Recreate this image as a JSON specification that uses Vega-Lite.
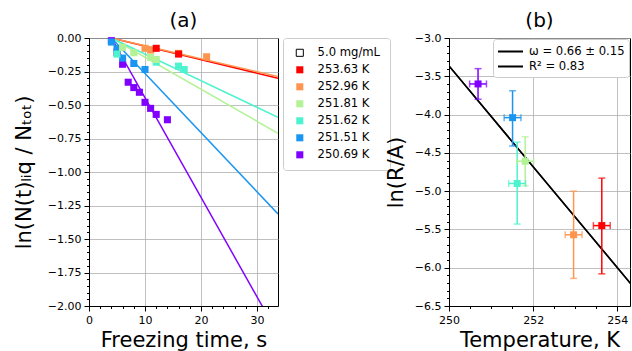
{
  "$schema": "https://vega.github.io/schema/vega-lite/v6.json",
  "padding": {"left": 12, "top": 10, "right": 0, "bottom": 0},
  "background": "white",
  "config": {
    "font": "DejaVu Sans",
    "view": {"stroke": "black", "strokeWidth": 1},
    "axis": {
      "domainColor": "black", "tickColor": "black", "labelColor": "black", "titleColor": "black",
      "labelFontSize": 11, "titleFontSize": 21, "titleFontWeight": "normal",
      "gridColor": "#b0b0b0", "gridWidth": 0.8, "labelFlush": false,
      "labelPadding": 3, "tickWidth": 1, "domainWidth": 1, "tickSize": 5
    },
    "title": {"fontSize": 20, "fontWeight": "normal", "offset": 1, "color": "black"}
  },
  "spacing": 171,
  "bounds": "flush",
  "resolve": {"scale": {"x": "independent", "y": "independent", "color": "independent", "stroke": "independent", "fill": "independent"}, "legend": {"color": "independent", "stroke": "independent", "fill": "independent"}},
  "hconcat": [
    {
      "width": 189, "height": 268,
      "title": "(a)",
      "resolve": {"axis": {"x": "independent", "y": "independent"}},
      "layer": [
        {
          "data": {"values": [
            {"T": "253.63 K", "t": 4, "v": 0}, {"T": "253.63 K", "t": 33.75, "v": -0.300},
            {"T": "252.96 K", "t": 4, "v": 0}, {"T": "252.96 K", "t": 33.75, "v": -0.288},
            {"T": "251.81 K", "t": 4, "v": 0}, {"T": "251.81 K", "t": 33.75, "v": -0.711},
            {"T": "251.62 K", "t": 4, "v": 0}, {"T": "251.62 K", "t": 33.75, "v": -0.592},
            {"T": "251.51 K", "t": 4, "v": 0}, {"T": "251.51 K", "t": 33.75, "v": -1.313},
            {"T": "250.69 K", "t": 4, "v": 0}, {"T": "250.69 K", "t": 33.75, "v": -2.21}
          ]},
          "mark": {"type": "line", "clip": true, "strokeWidth": 1.5},
          "encoding": {
            "x": {"field": "t", "type": "quantitative", "scale": {"domain": [0, 33.75], "nice": false, "zero": false},
              "axis": {"title": "Freezing time, s", "grid": true, "titlePadding": 4, "orient": "bottom", "format": "d",
                "values": [0, 10, 20, 30]}},
            "y": {"field": "v", "type": "quantitative", "scale": {"domain": [-2, 0], "nice": false, "zero": false},
              "axis": {"title": "ln(N(t)ₗᵢq / Nₜₒₜ)", "grid": true, "titlePadding": 13, "format": ".2f", "orient": "left",
                "values": [0,-0.25,-0.5,-0.75,-1,-1.25,-1.5,-1.75,-2]}},
            "color": {"field": "T", "type": "nominal",
              "scale": {"domain": ["253.63 K", "252.96 K", "251.81 K", "251.62 K", "251.51 K", "250.69 K"],
                        "range": ["#ff0000", "#ff964f", "#b3f296", "#4df2ce", "#1a96f2", "#8000ff"]},
              "legend": null}
          }
        },
        {
          "data": {"values": [
            {"T": "250.69 K", "t": 4, "v": -0.02}, {"T": "250.69 K", "t": 5, "v": -0.107}, {"T": "250.69 K", "t": 6, "v": -0.196},
            {"T": "250.69 K", "t": 7, "v": -0.33}, {"T": "250.69 K", "t": 8, "v": -0.37}, {"T": "250.69 K", "t": 9, "v": -0.405},
            {"T": "250.69 K", "t": 10, "v": -0.48}, {"T": "250.69 K", "t": 11, "v": -0.525}, {"T": "250.69 K", "t": 12, "v": -0.57},
            {"T": "250.69 K", "t": 14, "v": -0.61},
            {"T": "251.51 K", "t": 4, "v": -0.03}, {"T": "251.51 K", "t": 5, "v": -0.08}, {"T": "251.51 K", "t": 6, "v": -0.15},
            {"T": "251.51 K", "t": 8, "v": -0.19}, {"T": "251.51 K", "t": 10, "v": -0.235},
            {"T": "251.62 K", "t": 5, "v": -0.12}, {"T": "251.62 K", "t": 12, "v": -0.18}, {"T": "251.62 K", "t": 16, "v": -0.21},
            {"T": "251.62 K", "t": 17, "v": -0.235},
            {"T": "251.81 K", "t": 6, "v": -0.07}, {"T": "251.81 K", "t": 8, "v": -0.11}, {"T": "251.81 K", "t": 11, "v": -0.145},
            {"T": "251.81 K", "t": 12, "v": -0.16},
            {"T": "252.96 K", "t": 10, "v": -0.077}, {"T": "252.96 K", "t": 11, "v": -0.09}, {"T": "252.96 K", "t": 16, "v": -0.115},
            {"T": "252.96 K", "t": 21, "v": -0.14},
            {"T": "253.63 K", "t": 12, "v": -0.077}, {"T": "253.63 K", "t": 16, "v": -0.12}
          ]},
          "mark": {"type": "point", "shape": "square", "filled": true, "size": 50, "opacity": 1, "strokeWidth": 1},
          "encoding": {
            "x": {"field": "t", "type": "quantitative",
              "axis": {"orient": "bottom", "title": null, "labels": false, "grid": false, "domain": false, "tickSize": 2.5,
                "values": [2,4,6,8,12,14,16,18,22,24,26,28,32]}},
            "y": {"field": "v", "type": "quantitative",
              "axis": {"orient": "left", "title": null, "labels": false, "grid": false, "domain": false, "tickSize": 2.5,
                "values": [-0.05,-0.1,-0.15,-0.2,-0.3,-0.35,-0.4,-0.45,-0.55,-0.6,-0.65,-0.7,-0.8,-0.85,-0.9,-0.95,-1.05,-1.1,-1.15,-1.2,-1.3,-1.35,-1.4,-1.45,-1.55,-1.6,-1.65,-1.7,-1.8,-1.85,-1.9,-1.95]}},
            "fill": {"field": "T", "type": "nominal",
              "scale": {"domain": ["5.0 mg/mL", "253.63 K", "252.96 K", "251.81 K", "251.62 K", "251.51 K", "250.69 K"],
                        "range": ["white", "#ff0000", "#ff964f", "#b3f296", "#4df2ce", "#1a96f2", "#8000ff"]},
              "legend": {"title": null, "orient": "right", "offset": 5, "padding": 9, "strokeColor": "#cccccc", "fillColor": "white",
                "cornerRadius": 3, "labelFontSize": 11.6, "labelColor": "black", "symbolSize": 50, "symbolType": "square",
                "rowPadding": 4, "labelOffset": 12, "symbolOffset": 2, "symbolStrokeWidth": 1}},
            "stroke": {"field": "T", "type": "nominal",
              "scale": {"domain": ["5.0 mg/mL", "253.63 K", "252.96 K", "251.81 K", "251.62 K", "251.51 K", "250.69 K"],
                        "range": ["black", "transparent", "transparent", "transparent", "transparent", "transparent", "transparent"]},
              "legend": {"title": null, "orient": "right", "offset": 5, "padding": 9, "strokeColor": "#cccccc", "fillColor": "white",
                "cornerRadius": 3, "labelFontSize": 11.6, "labelColor": "black", "symbolSize": 50, "symbolType": "square",
                "rowPadding": 4, "labelOffset": 12, "symbolOffset": 2, "symbolStrokeWidth": 1}}
          }
        }
      ]
    },
    {
      "width": 181, "height": 268,
      "title": "(b)",
      "resolve": {"axis": {"x": "independent", "y": "independent"}},
      "layer": [
        {
          "data": {"values": [
            {"L": "ω = 0.66 ± 0.15", "x": 250, "y": -3.365}, {"L": "ω = 0.66 ± 0.15", "x": 254.35, "y": -6.23},
            {"L": "R² = 0.83", "x": 250, "y": -3.365}, {"L": "R² = 0.83", "x": 254.35, "y": -6.23}
          ]},
          "mark": {"type": "line", "clip": true, "strokeWidth": 1.5},
          "encoding": {
            "x": {"field": "x", "type": "quantitative", "scale": {"domain": [250, 254.3], "nice": false, "zero": false},
              "axis": {"title": "Temperature, K", "grid": true, "titlePadding": 4, "orient": "bottom", "format": "d",
                "values": [250, 252, 254]}},
            "y": {"field": "y", "type": "quantitative", "scale": {"domain": [-6.5, -3], "nice": false, "zero": false},
              "axis": {"title": "ln(R/A)", "grid": true, "titlePadding": 8, "orient": "left", "format": ".1f",
                "values": [-3, -3.5, -4, -4.5, -5, -5.5, -6, -6.5]}},
            "stroke": {"field": "L", "type": "nominal",
              "scale": {"domain": ["ω = 0.66 ± 0.15", "R² = 0.83"], "range": ["black", "black"]},
              "legend": {"title": null, "orient": "top-right", "offset": 1, "symbolType": "M-1.67,0L1.67,0", "symbolStrokeWidth": 2,
                "symbolSize": 225, "symbolOffset": 5, "strokeColor": "#cccccc", "fillColor": "white", "cornerRadius": 3, "padding": 4,
                "labelFontSize": 11.6, "labelColor": "black", "rowPadding": -1, "labelOffset": 10}}
          }
        },
        {
          "data": {"values": [
            {"T": "250.69 K", "x": 250.69, "y": -3.60, "xlo": 250.49, "xhi": 250.89, "ylo": -3.80, "yhi": -3.40},
            {"T": "251.51 K", "x": 251.51, "y": -4.04, "xlo": 251.31, "xhi": 251.71, "ylo": -4.41, "yhi": -3.69},
            {"T": "251.62 K", "x": 251.62, "y": -4.90, "xlo": 251.42, "xhi": 251.82, "ylo": -5.43, "yhi": -4.36},
            {"T": "251.81 K", "x": 251.81, "y": -4.61, "xlo": 251.61, "xhi": 252.01, "ylo": -4.93, "yhi": -4.29},
            {"T": "252.96 K", "x": 252.96, "y": -5.57, "xlo": 252.76, "xhi": 253.16, "ylo": -6.14, "yhi": -5.00},
            {"T": "253.63 K", "x": 253.63, "y": -5.45, "xlo": 253.43, "xhi": 253.83, "ylo": -6.08, "yhi": -4.83}
          ]},
          "layer": [
            {"mark": {"type": "rule", "strokeWidth": 1.5},
             "encoding": {"x": {"field": "x", "type": "quantitative", "axis": null}, "y": {"field": "ylo", "type": "quantitative", "axis": null}, "y2": {"field": "yhi"},
               "color": {"field": "T", "type": "nominal", "legend": null}}},
            {"mark": {"type": "rule", "strokeWidth": 1.5},
             "encoding": {"x": {"field": "xlo", "type": "quantitative", "axis": null}, "x2": {"field": "xhi"}, "y": {"field": "y", "type": "quantitative", "axis": null},
               "color": {"field": "T", "type": "nominal", "legend": null}}},
            {"mark": {"type": "tick", "orient": "horizontal", "size": 7, "thickness": 1.5},
             "encoding": {"x": {"field": "x", "type": "quantitative", "axis": null}, "y": {"field": "ylo", "type": "quantitative", "axis": null},
               "color": {"field": "T", "type": "nominal", "legend": null}}},
            {"mark": {"type": "tick", "orient": "horizontal", "size": 7, "thickness": 1.5},
             "encoding": {"x": {"field": "x", "type": "quantitative", "axis": null}, "y": {"field": "yhi", "type": "quantitative", "axis": null},
               "color": {"field": "T", "type": "nominal", "legend": null}}},
            {"mark": {"type": "tick", "orient": "vertical", "size": 7, "thickness": 1.5},
             "encoding": {"x": {"field": "xlo", "type": "quantitative", "axis": null}, "y": {"field": "y", "type": "quantitative", "axis": null},
               "color": {"field": "T", "type": "nominal", "legend": null}}},
            {"mark": {"type": "tick", "orient": "vertical", "size": 7, "thickness": 1.5},
             "encoding": {"x": {"field": "xhi", "type": "quantitative", "axis": null}, "y": {"field": "y", "type": "quantitative", "axis": null},
               "color": {"field": "T", "type": "nominal", "legend": null}}}
          ]
        },
        {
          "data": {"values": [
            {"T": "250.69 K", "x": 250.69, "y": -3.60},
            {"T": "251.51 K", "x": 251.51, "y": -4.04},
            {"T": "251.62 K", "x": 251.62, "y": -4.90},
            {"T": "251.81 K", "x": 251.81, "y": -4.61},
            {"T": "252.96 K", "x": 252.96, "y": -5.57},
            {"T": "253.63 K", "x": 253.63, "y": -5.45}
          ]},
          "mark": {"type": "point", "shape": "square", "filled": true, "size": 49, "opacity": 1},
          "encoding": {
            "x": {"field": "x", "type": "quantitative",
              "axis": {"orient": "bottom", "title": null, "labels": false, "grid": false, "domain": false, "tickSize": 2.5,
                "values": [250.5, 251, 251.5, 252.5, 253, 253.5]}},
            "y": {"field": "y", "type": "quantitative",
              "axis": {"orient": "left", "title": null, "labels": false, "grid": false, "domain": false, "tickSize": 2.5,
                "values": [-3.1,-3.2,-3.3,-3.4,-3.6,-3.7,-3.8,-3.9,-4.1,-4.2,-4.3,-4.4,-4.6,-4.7,-4.8,-4.9,-5.1,-5.2,-5.3,-5.4,-5.6,-5.7,-5.8,-5.9,-6.1,-6.2,-6.3,-6.4]}},
            "color": {"field": "T", "type": "nominal",
              "scale": {"domain": ["253.63 K", "252.96 K", "251.81 K", "251.62 K", "251.51 K", "250.69 K"],
                        "range": ["#ff0000", "#ff964f", "#b3f296", "#4df2ce", "#1a96f2", "#8000ff"]},
              "legend": null}
          }
        }
      ]
    }
  ]
}
